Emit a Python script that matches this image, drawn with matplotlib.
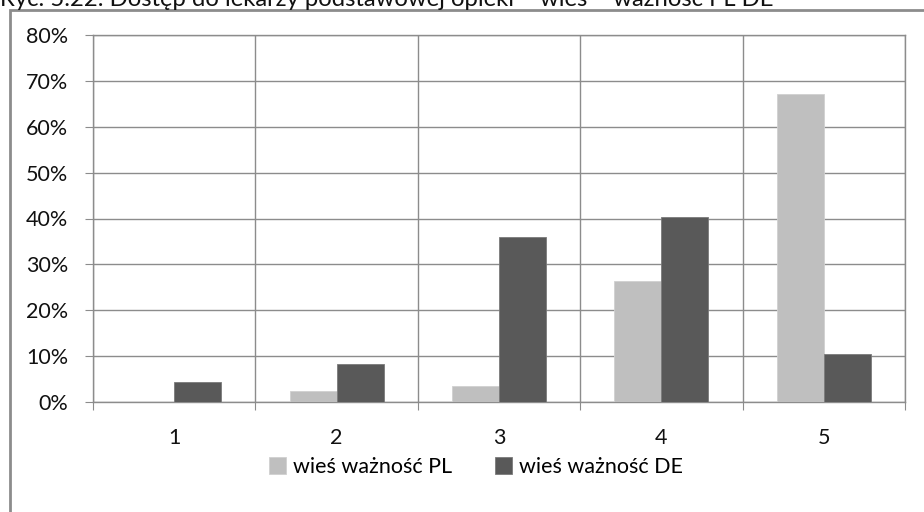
import numpy as np
import matplotlib
matplotlib.use("Agg")
import matplotlib.pyplot as plt
from matplotlib.patches import Rectangle
from matplotlib.ticker import PercentFormatter

plt.rcParams["font.family"] = ["Lato", "DejaVu Sans"]

# --- Data ---
categories = ["1", "2", "3", "4", "5"]
pl_values = [0.0, 2.3, 3.5, 26.3, 67.2]
de_values = [4.3, 8.3, 35.9, 40.4, 10.4]
series_names = ["wieś ważność PL", "wieś ważność DE"]
title = "Ryc. 5.22. Dostęp do lekarzy podstawowej opieki – wieś – ważność PL DE"

W, H = 924, 512
fig = plt.figure(figsize=(W / 100, H / 100), dpi=100)

# outer chart frame (cut off on right/bottom like the screenshot)
fig.patches.append(Rectangle((10 / W, -0.1), 1.2, 1 - 10 / H + 0.1, transform=fig.transFigure,
                             fill=False, edgecolor="#8c8c8c", linewidth=2))
fig.text(0.0, 1 - 6 / H, title, fontsize=17.2, va="baseline", ha="left", color="#111111")

ax = fig.add_axes([93 / W, (H - 402) / H, (905 - 93) / W, (402 - 35) / H])

x = np.arange(1, len(categories) + 1)
bw = 0.29
ax.bar(x - bw / 2, pl_values, bw, color="#bfbfbf", edgecolor="#d0d0d0", linewidth=0.6,
       label=series_names[0], zorder=3)
ax.bar(x + bw / 2, de_values, bw, color="#595959", edgecolor="#7a7a7a", linewidth=0.6,
       label=series_names[1], zorder=3)

ax.set_xlim(0.5, len(categories) + 0.5)
ax.set_ylim(0, 80)
ax.set_yticks(np.arange(0, 81, 10))
ax.yaxis.set_major_formatter(PercentFormatter(decimals=0))

ax.set_xticks(np.arange(0.5, len(categories) + 1, 1))
ax.set_xticklabels([])
ax.set_xticks(x, minor=True)
ax.set_xticklabels(categories, minor=True)

ax.grid(True, which="major", color="#8c8c8c", linewidth=1, zorder=0)
for s in ax.spines.values():
    s.set_color("#8c8c8c")
    s.set_linewidth(1)

ax.tick_params(axis="y", which="major", length=6, color="#8c8c8c", pad=12, labelsize=15.5, labelcolor="#111111")
ax.tick_params(axis="x", which="major", length=6, color="#8c8c8c")
ax.tick_params(axis="x", which="minor", length=0, pad=19, labelsize=15.5, labelcolor="#111111")

fig.legend(loc="center", bbox_to_anchor=(476 / W, 1 - 467 / H), ncol=2, frameon=False,
           fontsize=15.5, handlelength=0.8, handleheight=0.8, handletextpad=0.3,
           columnspacing=2.0)

fig.savefig("out.png", dpi=100)
